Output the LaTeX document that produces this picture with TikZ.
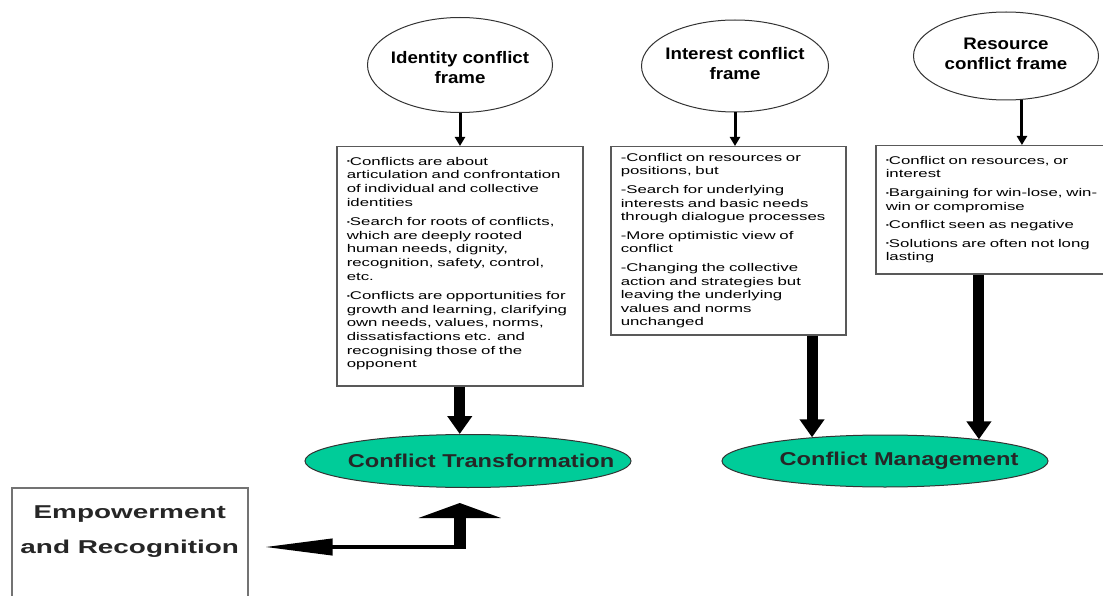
\documentclass[tikz,border=0pt]{standalone}
\usepackage{fontspec}
\setmainfont{Liberation Sans}
\newfontfamily\listfont[FakeStretch=1.5]{Liberation Sans}
\newfontfamily\empfont[FakeStretch=1.5]{Liberation Sans}
\newfontfamily\outcomefont[FakeStretch=1.27]{Liberation Sans}
\newfontfamily\framefont[FakeStretch=1.12]{Liberation Sans}
\usepackage{xcolor}
\usepackage{tikz}
\usetikzlibrary{positioning}
\usetikzlibrary{shapes.geometric}
\usetikzlibrary{arrows.meta}
\usetikzlibrary{calc}
\definecolor{outcomegreen}{RGB}{0,204,153}
\newcommand{\ovaltext}[1]{\makebox[0pt]{\begin{tabular}{@{}c@{}}#1\end{tabular}}}
\newcommand{\itemdot}{\raisebox{1.5pt}{\scalebox{0.55}{\textbullet}}}

\begin{document}
\begin{tikzpicture}[x=1pt,y=-1pt]
		% ------- style -------
		\tikzset{%
			frameoval/.style={%
				ellipse, draw=black!80, line width=1pt, fill=white,
				inner sep=0pt,
				font=\framefont\bfseries\fontsize{16.7}{20}\selectfont,
			},
			listbox/.style={%
				draw=black!65, line width=1.5pt, anchor=north west,
				align=left, inner xsep=10pt, inner ysep=6pt,
				font=\listfont\fontsize{11.2}{13.6}\selectfont,
			},
			outcome/.style={%
				ellipse, draw=black!80, line width=1pt, fill=outcomegreen,
				inner sep=0pt, text=black!85,
				font=\outcomefont\bfseries\fontsize{18.6}{22}\selectfont,
			},
			empbox/.style={%
				draw=black!55, line width=1.5pt, anchor=north west,
				align=center, inner xsep=4pt, text=black!85,
				font=\empfont\bfseries\fontsize{18.6}{35}\selectfont,
			},
			thinarrow/.style={line width=3pt, -{Triangle[length=9pt,width=10pt]}},
			thickarrow/.style={line width=11pt, -{Triangle[length=18pt,width=24pt]}},
		}
		\useasboundingbox[fill=white] (0,0) rectangle (1103,596);
		
		% ------- frames -------
		\node[frameoval, minimum width=185pt, minimum height=95pt] (idframe) at (460,65)
			{\raisebox{-8.5pt}[0pt][0pt]{\ovaltext{Identity conflict\\frame}}};
		\node[frameoval, minimum width=187pt, minimum height=92pt] (intframe) at (735,66)
			{\ovaltext{Interest conflict\\frame}};
		\node[frameoval, minimum width=185pt, minimum height=88pt] (resframe) at (1006,56)
			{\ovaltext{Resource\\conflict frame}};
		
		% ------- lists -------
		\node[listbox, text width=226pt, minimum height=239pt] (idlist) at (336,146) {%
			\itemdot Conflicts are about\\
			articulation and confrontation\\
			of individual and collective\\
			identities\\[6pt]
			\itemdot Search for roots of conflicts,\\
			which are deeply rooted\\
			human needs, dignity,\\
			recognition, safety, control,\\
			etc.\\[6pt]
			\itemdot Conflicts are opportunities for\\
			growth and learning, clarifying\\
			own needs, values, norms,\\
			dissatisfactions etc. and\\
			recognising those of the\\
			opponent\\[-6pt]\mbox{}};
		\node[listbox, text width=215pt, minimum height=188pt] (intlist) at (610,146) {%
			-Conflict on resources or\\
			positions, but\\[5pt]
			-Search for underlying\\
			interests and basic needs\\
			through dialogue processes\\[5pt]
			-More optimistic view of\\
			conflict\\[5pt]
			-Changing the collective\\
			action and strategies but\\
			leaving the underlying\\
			values and norms\\
			unchanged};
		\node[listbox, text width=218pt, minimum height=128pt] (reslist) at (875,145) {%
			\itemdot Conflict on resources, or\\
			interest\\[5pt]
			\itemdot Bargaining for win-lose, win-\\
			win or compromise\\[5pt]
			\itemdot Conflict seen as negative\\[5pt]
			\itemdot Solutions are often not long\\
			lasting};
		
		% ------- outcomes -------
		\node[outcome, minimum width=326pt, minimum height=53pt] (transform) at (468,461)
			{\makebox[0pt]{\hspace{26pt}Conflict Transformation}};
		\node[outcome, minimum width=326pt, minimum height=52pt] (manage) at (885,461)
			{\makebox[0pt]{\hspace{28pt}Conflict Management}};
		
		\node[empbox, minimum width=236pt, inner ysep=18pt, text depth=58pt] (emp) at (11,487)
			{Empowerment\\and Recognition};
		
		% ------- arrows -------
		\draw[thinarrow] (idframe.south) -- (idframe.south |- idlist.north);
		\draw[thinarrow] (intframe.south) -- (intframe.south |- intlist.north);
		\draw[thinarrow] (resframe.-70) -- (resframe.-70 |- reslist.north);
		
		\draw[thickarrow] (idlist.south) -- (idlist.south |- transform.north);
		\draw[thickarrow] (manage.162 |- intlist.south) -- (manage.162);
		\draw[thickarrow] (manage.13 |- reslist.south) -- (manage.13);
		
		\coordinate (bend) at (idlist.south |- 0,547);
		\coordinate (emptip) at ($(emp.east |- bend)+(16,0)$);
		\coordinate (uptip) at ($(bend |- transform.south)+(0,15)$);
		\draw[line width=4pt, -{Triangle[length=68pt,width=16pt]}] (bend) -- (emptip);
		\draw[line width=12pt, -{Triangle[length=15pt,width=82pt]}] ($(bend)+(0,2)$) -- (uptip);
	\end{tikzpicture}
\end{document}
